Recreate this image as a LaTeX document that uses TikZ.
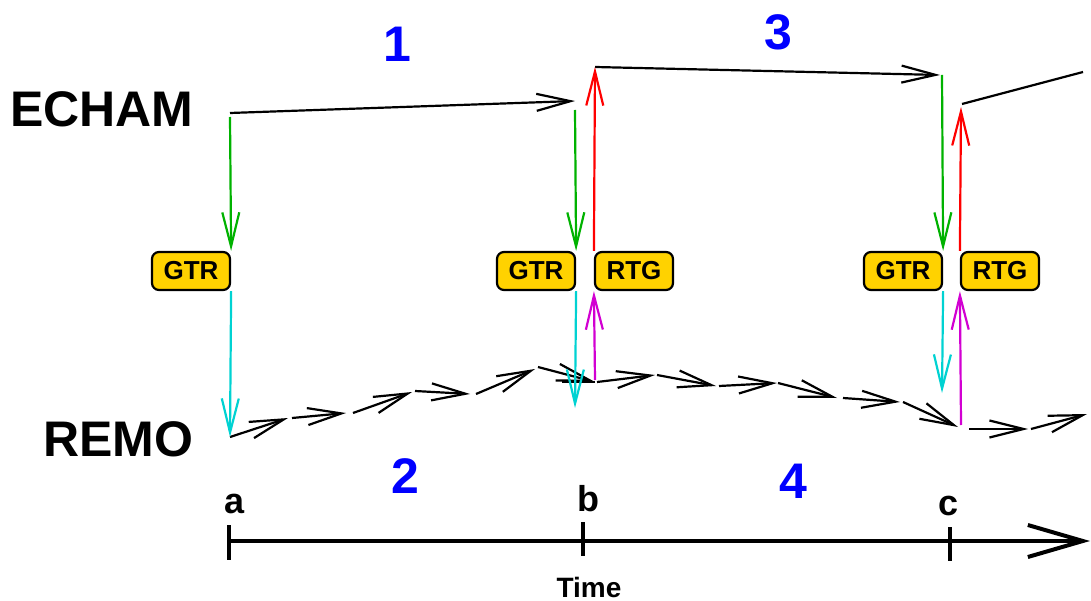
\documentclass[tikz,border=0pt]{standalone}
\usepackage{fontspec}
\setmainfont{Liberation Sans}
\usetikzlibrary{arrows.meta}
\definecolor{boxgold}{RGB}{255,210,0}
\definecolor{gtrgreen}{RGB}{0,178,0}
\definecolor{gtrcyan}{RGB}{0,210,210}
\definecolor{rtgred}{RGB}{255,0,0}
\definecolor{rtgmagenta}{RGB}{210,0,210}
\definecolor{stepblue}{RGB}{0,0,255}
\begin{document}
\begin{tikzpicture}[x=1pt,y=-1pt,
    flow/.style={line width=2.2pt},
    barb/.style={-{Straight Barb[length=34pt,width=17pt]}},
    coupler/.style={draw=black, line width=2.2pt, fill=boxgold, rounded corners=7pt,
        minimum width=78pt, minimum height=38pt, inner sep=0pt,
        font=\fontsize{26}{26}\selectfont\bfseries},
    model/.style={anchor=base, font=\fontsize{50}{50}\selectfont\bfseries},
    period/.style={text=stepblue, font=\fontsize{50}{50}\selectfont\bfseries},
    instant/.style={anchor=base, font=\fontsize{36}{36}\selectfont\bfseries},
    axis/.style={line width=4pt, -{Straight Barb[length=55pt,width=32pt]}},
    tick/.style={line width=4pt}]
    \useasboundingbox (0,0) rectangle (1091,601);

    % Model names
    \node[model] (echam) at (102,127) {ECHAM};
    \node[model] (remo) at (118,456) {REMO};

    % Periods
    \node[period] (p1) at (397,44) {1};
    \node[period] (p3) at (778,32) {3};
    \node[period] (p2) at (405,476) {2};
    \node[period] (p4) at (793,481) {4};

    % Coupling boxes
    \node[coupler] (gtrA) at (191,271) {GTR};
    \node[coupler] (gtrB) at (536,271) {GTR};
    \node[coupler] (rtgB) at (634,271) {RTG};
    \node[coupler] (gtrC) at (903,271) {GTR};
    \node[coupler] (rtgC) at (1000,271) {RTG};

    % ECHAM steps
    \coordinate (e1s) at (230,113);
    \coordinate (e1e) at (575,101);
    \coordinate (e2s) at (595,67);
    \coordinate (e2e) at (940,75);
    \coordinate (e3s) at (962,104);
    \coordinate (e3e) at (1083,72);
    \draw[flow, barb] (e1s) -- (e1e);
    \draw[flow, barb] (e2s) -- (e2e);
    \draw[flow] (e3s) -- (e3e);

    % REMO steps
    \coordinate (r1s) at (230,437);   \coordinate (r1e) at (288,418);
    \coordinate (r2s) at (292,418);   \coordinate (r2e) at (346,413);
    \coordinate (r3s) at (353,413);   \coordinate (r3e) at (412,392);
    \coordinate (r4s) at (415,391);   \coordinate (r4e) at (470,394);
    \coordinate (r5s) at (476,394);   \coordinate (r5e) at (535,369);
    \coordinate (r6s) at (538,367);   \coordinate (r6e) at (595,382);
    \coordinate (r7s) at (597,382);   \coordinate (r7e) at (655,375);
    \coordinate (r8s) at (657,375);   \coordinate (r8e) at (716,386);
    \coordinate (r9s) at (719,386);   \coordinate (r9e) at (777,383);
    \coordinate (r10s) at (778,383);  \coordinate (r10e) at (837,398);
    \coordinate (r11s) at (843,398);  \coordinate (r11e) at (900,402);
    \coordinate (r12s) at (903,402);  \coordinate (r12e) at (958,427);
    \coordinate (r13s) at (969,429);  \coordinate (r13e) at (1028,429);
    \coordinate (r14s) at (1031,429); \coordinate (r14e) at (1087,414);
    \coordinate (stub) at (562,382);
    \draw[flow, barb] (r1s) -- (r1e);
    \draw[flow, barb] (r2s) -- (r2e);
    \draw[flow, barb] (r3s) -- (r3e);
    \draw[flow, barb] (r4s) -- (r4e);
    \draw[flow, barb] (r5s) -- (r5e);
    \draw[flow, barb] (r6s) -- (r6e);
    \draw[flow] (stub) -- (r6e);
    \draw[flow, barb] (r7s) -- (r7e);
    \draw[flow, barb] (r8s) -- (r8e);
    \draw[flow, barb] (r9s) -- (r9e);
    \draw[flow, barb] (r10s) -- (r10e);
    \draw[flow, barb] (r11s) -- (r11e);
    \draw[flow, barb] (r12s) -- (r12e);
    \draw[flow, barb] (r13s) -- (r13e);
    \draw[flow, barb] (r14s) -- (r14e);

    % Time a: global to regional
    \draw[flow, gtrgreen, barb] (230,117) -- (gtrA.north east);
    \draw[flow, gtrcyan, barb] (gtrA.south east) -- (r1s);

    % Time b
    \draw[flow, gtrgreen, barb] (575,110) -- (gtrB.north east);
    \draw[flow, gtrcyan, barb] (gtrB.south east) -- (575,408);
    \draw[flow, rtgmagenta, barb] (595,380) -- (rtgB.south west);
    \draw[flow, rtgred, barb] (rtgB.north west) -- (e2s);

    % Time c
    \draw[flow, gtrgreen, barb] (942,75) -- (gtrC.north east);
    \draw[flow, gtrcyan, barb] (gtrC.south east) -- (942,393);
    \draw[flow, rtgmagenta, barb] (961,425) -- (rtgC.south west);
    \draw[flow, rtgred, barb] (rtgC.north west) -- (961,107);

    % Time axis
    \coordinate (t0) at (229,541);
    \coordinate (t1) at (1090,541);
    \draw[axis] (t0) -- (t1);
    \draw[tick] (229,525) -- (229,560);
    \draw[tick] (583,522) -- (583,556);
    \draw[tick] (950,527) -- (950,561);
    \node[instant] (ta) at (235,513) {a};
    \node[instant] (tb) at (588,511) {b};
    \node[instant] (tc) at (948,515) {c};
    \node[anchor=base, font=\fontsize{28}{28}\selectfont\bfseries] (time) at (589,597) {Time};
\end{tikzpicture}
\end{document}
